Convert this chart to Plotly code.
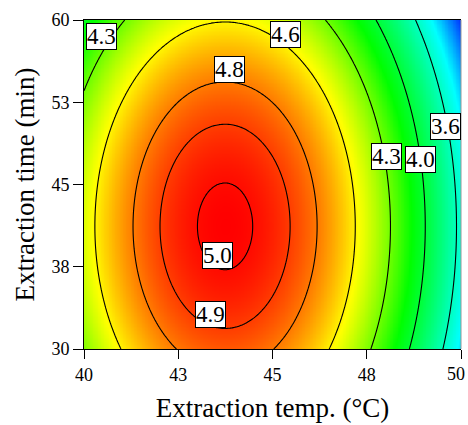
import numpy as np
import plotly.graph_objects as go

# ---------------- data ----------------
# Quadratic response-surface model in coded units
# A = (temp - 45) / 5, B = (time - 45) / 15
coef_names = ["b0", "A", "B", "AB", "A2", "B2"]
coef_values = [4.943, -0.464, -0.145, 0.0, -0.922, -0.285]

temp_range = [40, 50]
time_range = [30, 60]
temp_ticks = [40, 42.5, 45, 47.5, 50]
temp_tick_labels = ["40", "43", "45", "48", "50"]
time_ticks = [30, 37.5, 45, 52.5, 60]
time_tick_labels = ["30", "38", "45", "53", "60"]

contour_levels = [3.63, 3.98, 4.31, 4.58, 4.80, 4.91, 5.00]

# colour stops (response value -> colour)
color_stop_values = [3.05, 3.47, 4.12, 4.56, 5.02]
color_stop_colors = ["rgb(0,0,255)", "rgb(0,255,255)", "rgb(0,255,0)",
                     "rgb(255,255,0)", "rgb(255,0,0)"]

# contour label placement: (level index, temp, time)
label_places = [
    (2, 40.47, 58.5),
    (3, 45.34, 58.71),
    (4, 43.86, 55.47),
    (6, 43.55, 38.52),
    (5, 43.36, 33.12),
    (2, 48.02, 47.55),
    (1, 48.93, 47.24),
    (0, 49.59, 50.29),
]

# ---------------- surface ----------------
c = dict(zip(coef_names, coef_values))
T = np.linspace(temp_range[0], temp_range[1], 241)
t = np.linspace(time_range[0], time_range[1], 241)
TT, tt = np.meshgrid(T, t)
A = (TT - 45) / 5
B = (tt - 45) / 15
Z = (c["b0"] + c["A"] * A + c["B"] * B + c["AB"] * A * B
     + c["A2"] * A ** 2 + c["B2"] * B ** 2)

zmin, zmax = color_stop_values[0], color_stop_values[-1]
colorscale = [[(v - zmin) / (zmax - zmin), col]
              for v, col in zip(color_stop_values, color_stop_colors)]

FONT = "Liberation Serif, Times New Roman, serif"

fig = go.Figure()
fig.add_trace(go.Heatmap(x=T, y=t, z=Z, zmin=zmin, zmax=zmax,
                         colorscale=colorscale, zsmooth="best",
                         showscale=False, hoverinfo="skip"))

for lvl in contour_levels:
    fig.add_trace(go.Contour(
        x=T, y=t, z=Z, autocontour=False,
        contours=dict(start=lvl, end=lvl, size=1, coloring="none"),
        line=dict(color="black", width=1.1, smoothing=1.0),
        showscale=False, hoverinfo="skip"))

for idx, lx, ly in label_places:
    fig.add_annotation(x=lx, y=ly, xref="x", yref="y",
                       text=f"{contour_levels[idx]:.1f}", showarrow=False,
                       font=dict(family=FONT, size=23, color="black"),
                       bgcolor="white", bordercolor="black", borderwidth=1,
                       borderpad=0)

# the last x tick label sits at the page edge: draw it nudged inward
shown_ticktext = temp_tick_labels[:-1] + [""]
fig.add_annotation(x=temp_ticks[-1], y=0, xref="x", yref="paper",
                   text=temp_tick_labels[-1], showarrow=False,
                   xanchor="center", yanchor="middle", xshift=-5, yshift=-25,
                   font=dict(family=FONT, size=18, color="black"))

# right frame edge (grey)
fig.add_shape(type="line", xref="paper", yref="paper", x0=1, x1=1, y0=0, y1=1,
              line=dict(color="rgb(150,150,150)", width=1))

fig.update_layout(
    width=468, height=425,
    margin=dict(l=84, r=7, t=20, b=76, autoexpand=False),
    paper_bgcolor="white", plot_bgcolor="white",
    showlegend=False,
    font=dict(family=FONT, color="black"),
    xaxis=dict(range=temp_range, tickvals=temp_ticks, ticktext=shown_ticktext,
               ticks="outside", ticklen=9, tickwidth=1, tickcolor="black",
               ticklabeloverflow="allow", automargin=False,
               showline=True, linecolor="black", linewidth=1, mirror=True,
               showgrid=False, zeroline=False,
               tickfont=dict(family=FONT, size=18, color="black"),
               title=dict(text="Extraction temp. (°C)", standoff=14,
                          font=dict(family=FONT, size=27, color="black"))),
    yaxis=dict(range=time_range, tickvals=time_ticks, ticktext=time_tick_labels,
               ticks="outside", ticklen=10, tickwidth=1, tickcolor="black",
               ticklabeloverflow="allow", automargin=False,
               showline=True, linecolor="black", linewidth=1,
               showgrid=False, zeroline=False,
               tickfont=dict(family=FONT, size=18, color="black"),
               title=dict(text="Extraction time (min)", standoff=8,
                          font=dict(family=FONT, size=27, color="black"))),
)

fig.write_html("out.html")
